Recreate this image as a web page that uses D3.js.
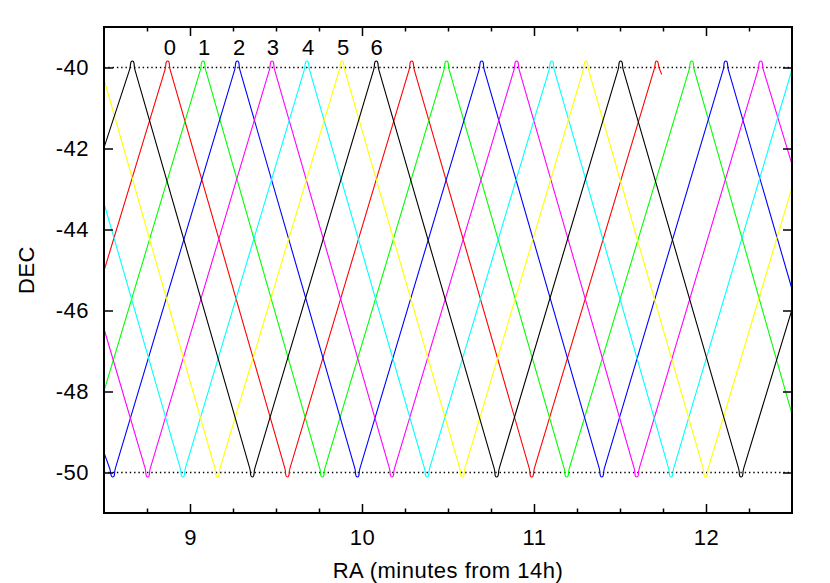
<!DOCTYPE html>
<html>
<head>
<meta charset="utf-8">
<script src="https://cdn.jsdelivr.net/npm/d3@7"></script>
<style>
  body { margin: 0; background: #fff; }
  text { font-family: "Liberation Sans", Arial, Helvetica, sans-serif; fill: #000; letter-spacing: 0.5px; }
</style>
</head>
<body>
<svg id="chart" width="830" height="583"></svg>
<script>
// ---------------- data ----------------
const xDomain = [8.5, 12.5];
const yDomain = [-51, -39];
const xMajorTicks = [9, 10, 11, 12];
const xMinorTicks = [8.75, 9.25, 9.5, 9.75, 10.25, 10.5, 10.75, 11.25, 11.5, 11.75, 12.25];
const yTicks = [-50, -48, -46, -44, -42, -40];
const refLines = [-40, -50];
const xTitle = "RA (minutes from 14h)";
const yTitle = "DEC";

const seriesNames = ["0", "1", "2", "3", "4", "5", "6"];
const labelRA = [8.884, 9.083, 9.287, 9.484, 9.688, 9.891, 10.086];

// turning points of each beam track (RA, DEC)
const ra0  = [8.5, 8.870, 9.566, 10.289, 10.987, 11.713, 11.742];
const dec0 = [-45.02, -39.84, -50.11, -39.84, -50.11, -39.84, -40.17];
const ra1  = [8.5, 9.076, 9.769, 10.492, 11.190, 11.917, 12.5];
const dec1 = [-47.99, -39.84, -50.11, -39.84, -50.11, -39.84, -48.56];
const ra2  = [8.5, 8.551, 9.275, 9.973, 10.696, 11.394, 12.115, 12.5];
const dec2 = [-49.51, -50.11, -39.84, -50.11, -39.84, -50.11, -39.84, -45.47];
const ra3  = [8.5, 8.754, 9.477, 10.174, 10.899, 11.597, 12.318, 12.5];
const dec3 = [-46.45, -50.11, -39.84, -50.11, -39.84, -50.11, -39.84, -42.39];
const ra4  = [8.5, 8.958, 9.680, 10.378, 11.103, 11.797, 12.5];
const dec4 = [-43.35, -50.11, -39.84, -50.11, -39.84, -50.11, -40.05];
const ra5  = [8.5, 9.159, 9.884, 10.583, 11.302, 11.998, 12.5];
const dec5 = [-40.29, -50.11, -39.84, -50.11, -39.84, -50.11, -42.96];
const ra6  = [8.5, 8.665, 9.362, 10.083, 10.783, 11.504, 12.204, 12.5];
const dec6 = [-41.98, -39.84, -50.11, -39.84, -50.11, -39.84, -50.11, -45.97];

const seriesRA  = [ra0, ra1, ra2, ra3, ra4, ra5, ra6];
const seriesDEC = [dec0, dec1, dec2, dec3, dec4, dec5, dec6];
const seriesColors = ["#ff0000", "#00ff00", "#0000ff", "#ff00ff", "#00ffff", "#ffff00", "#000000"];

// ---------------- layout ----------------
const W = 830, H = 583;
const plot = { left: 104, right: 792, top: 27, bottom: 513 };
const FONT = 22;

const svg = d3.select("#chart");
const x = d3.scaleLinear().domain(xDomain).range([plot.left, plot.right]);
const y = d3.scaleLinear().domain(yDomain).range([plot.bottom, plot.top]);

// rounded-corner polyline curve (turnarounds of the scan are smooth)
function RoundedCorners(context) { this._context = context; this._r = 9; }
RoundedCorners.prototype = {
  areaStart() {}, areaEnd() {},
  lineStart() { this._pts = []; },
  point(px, py) { this._pts.push([+px, +py]); },
  lineEnd() {
    const p = this._pts, c = this._context, n = p.length;
    if (!n) return;
    c.moveTo(p[0][0], p[0][1]);
    for (let i = 1; i < n - 1; i++) {
      const A = p[i - 1], P = p[i], B = p[i + 1];
      const la = Math.hypot(A[0] - P[0], A[1] - P[1]);
      const lb = Math.hypot(B[0] - P[0], B[1] - P[1]);
      const r = Math.min(this._r, la / 2, lb / 2);
      const a = [P[0] + (A[0] - P[0]) * r / la, P[1] + (A[1] - P[1]) * r / la];
      const b = [P[0] + (B[0] - P[0]) * r / lb, P[1] + (B[1] - P[1]) * r / lb];
      const dir = Math.sign(B[0] - A[0]) || 1;
      const h = r * 0.3;
      c.lineTo(a[0], a[1]);
      c.bezierCurveTo(a[0] + (P[0] - a[0]) * 0.55, a[1] + (P[1] - a[1]) * 0.55,
                      P[0] - dir * h, P[1], P[0], P[1]);
      c.bezierCurveTo(P[0] + dir * h, P[1],
                      b[0] + (P[0] - b[0]) * 0.55, b[1] + (P[1] - b[1]) * 0.55,
                      b[0], b[1]);
    }
    c.lineTo(p[n - 1][0], p[n - 1][1]);
  }
};
const roundedCurve = ctx => new RoundedCorners(ctx);

svg.append("defs").append("clipPath").attr("id", "clip")
  .append("rect")
  .attr("x", plot.left).attr("y", plot.top)
  .attr("width", plot.right - plot.left).attr("height", plot.bottom - plot.top);

// reference dotted lines
svg.append("g").selectAll("line").data(refLines).join("line")
  .attr("x1", plot.left).attr("x2", plot.right)
  .attr("y1", d => y(d)).attr("y2", d => y(d))
  .attr("stroke", "#000").attr("stroke-width", 1.4)
  .attr("stroke-dasharray", "1.4,2.9");

// curves
const line = d3.line().x(d => x(d[0])).y(d => y(d[1])).curve(roundedCurve);
svg.append("g").attr("clip-path", "url(#clip)")
  .selectAll("path")
  .data(seriesRA.map((ra, i) => ra.map((v, j) => [v, seriesDEC[i][j]])))
  .join("path")
  .attr("d", line)
  .attr("fill", "none")
  .attr("stroke", (d, i) => seriesColors[i])
  .attr("stroke-width", 1.1);

// axes (ticks pointing inward, mirrored)
const plainFormat = d => String(d);   // ASCII hyphen-minus like the reference
function styleAxis(g) {
  g.select(".domain").remove();
  g.selectAll(".tick line").attr("stroke", "#000").attr("stroke-width", 1.5);
  g.selectAll(".tick text").attr("font-size", FONT).attr("font-family", null).attr("fill", "#000");
}
svg.append("g").attr("transform", `translate(0,${plot.bottom})`)
  .call(d3.axisBottom(x).tickValues(xMajorTicks).tickFormat(plainFormat).tickSize(-9).tickPadding(16))
  .call(styleAxis);
svg.append("g").attr("transform", `translate(0,${plot.bottom})`)
  .call(d3.axisBottom(x).tickValues(xMinorTicks).tickFormat("").tickSize(-4.5))
  .call(styleAxis);
svg.append("g").attr("transform", `translate(0,${plot.top})`)
  .call(d3.axisTop(x).tickValues(xMajorTicks).tickFormat("").tickSize(-9))
  .call(styleAxis);
svg.append("g").attr("transform", `translate(0,${plot.top})`)
  .call(d3.axisTop(x).tickValues(xMinorTicks).tickFormat("").tickSize(-4.5))
  .call(styleAxis);
svg.append("g").attr("transform", `translate(${plot.left},0)`)
  .call(d3.axisLeft(y).tickValues(yTicks).tickFormat(plainFormat).tickSize(-9).tickPadding(15))
  .call(styleAxis);
svg.append("g").attr("transform", `translate(${plot.right},0)`)
  .call(d3.axisRight(y).tickValues(yTicks).tickFormat("").tickSize(-9))
  .call(styleAxis);

// frame
svg.append("rect")
  .attr("x", plot.left).attr("y", plot.top)
  .attr("width", plot.right - plot.left).attr("height", plot.bottom - plot.top)
  .attr("fill", "none").attr("stroke", "#000").attr("stroke-width", 2);

// beam labels
svg.append("g").selectAll("text").data(seriesNames).join("text")
  .attr("x", (d, i) => x(labelRA[i]))
  .attr("y", y(-39.84) - 6)
  .attr("text-anchor", "middle")
  .attr("font-size", FONT)
  .text(d => d);

// axis titles
svg.append("text")
  .attr("x", (plot.left + plot.right) / 2).attr("y", 578)
  .attr("text-anchor", "middle").attr("font-size", FONT)
  .text(xTitle);
svg.append("text")
  .attr("transform", `translate(34,${(plot.top + plot.bottom) / 2}) rotate(-90)`)
  .attr("text-anchor", "middle").attr("font-size", FONT)
  .text(yTitle);
</script>
</body>
</html>
